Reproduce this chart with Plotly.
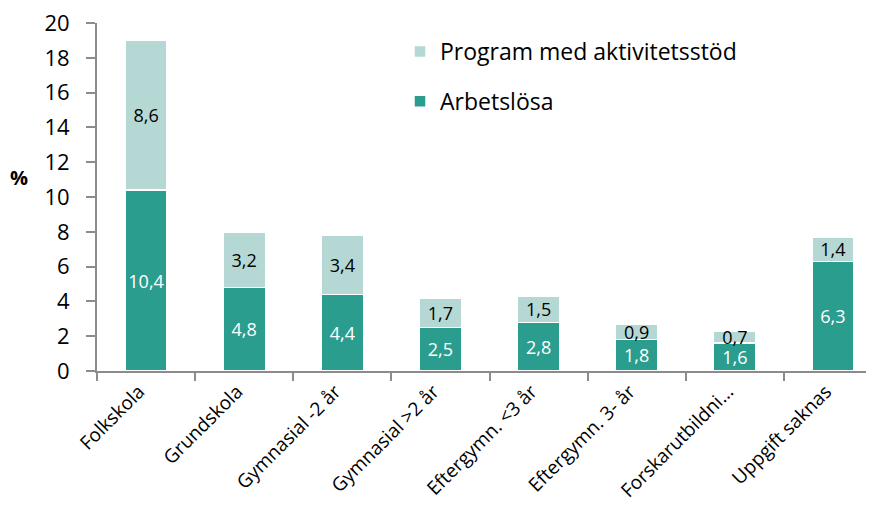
import plotly.graph_objects as go

# Categories and values (percent)
categories = ["Folkskola", "Grundskola", "Gymnasial -2 år", "Gymnasial >2 år",
              "Eftergymn. <3 år", "Eftergymn. 3- år", "Forskarutbildni...",
              "Uppgift saknas"]
arbetslosa = [10.4, 4.8, 4.4, 2.5, 2.8, 1.8, 1.6, 6.3]
program = [8.6, 3.2, 3.4, 1.7, 1.5, 0.9, 0.7, 1.4]
y_ticks = [0, 2, 4, 6, 8, 10, 12, 14, 16, 18, 20]

dark = "#2A9D8F"
light = "#B5D8D4"
font = "'Open Sans', sans-serif"


def fmt(v):
    return f"{v:.1f}".replace(".", ",")


fig = go.Figure()
fig.add_trace(go.Bar(x=categories, y=arbetslosa, name="Arbetslösa",
                     legendgroup="a", legendrank=2,
                     marker=dict(color=dark, line=dict(color="white", width=1.5)),
                     text=[fmt(v) for v in arbetslosa], textposition="inside",
                     insidetextanchor="middle", constraintext="none", textangle=0,
                     textfont=dict(color="white", size=18, family=font)))
fig.add_trace(go.Bar(x=categories, y=program, name="Program med aktivitetsstöd",
                     legendgroup="p", legendrank=1,
                     marker=dict(color=light, line=dict(color="white", width=1.5)),
                     text=[fmt(v) for v in program], textposition="inside",
                     insidetextanchor="middle", constraintext="none", textangle=0,
                     textfont=dict(color="black", size=18, family=font)))

fig.update_layout(
    barmode="stack",
    bargap=0.57,
    width=874, height=516,
    margin=dict(l=89, r=0, t=15, b=153, autoexpand=False),
    plot_bgcolor="white", paper_bgcolor="white",
    font=dict(family=font, color="black"),
    legend=dict(x=0.386, y=0.98, xanchor="left", yanchor="top",
                traceorder="grouped", font=dict(size=23),
                itemwidth=30, tracegroupgap=17, bgcolor="rgba(0,0,0,0)"),
    showlegend=True,
)
fig.update_xaxes(showline=True, linecolor="#8c8c8c", linewidth=2,
                 ticks="outside", tickson="boundaries", ticklen=8,
                 tickcolor="#8c8c8c", tickwidth=1.5, tickangle=-45,
                 tickfont=dict(size=19), range=[-0.5, 7.5], automargin=False,
                 ticklabeloverflow="allow", ticklabelshift=-7)
fig.update_yaxes(range=[0, 20], tickvals=y_ticks, showgrid=False,
                 showline=True, linecolor="#8c8c8c", linewidth=2,
                 ticks="outside", ticklen=9, tickcolor="#8c8c8c", tickwidth=1.5,
                 tickfont=dict(size=22), zeroline=False, automargin=False,
                 ticklabeloverflow="allow", ticklabelstandoff=12)
fig.add_annotation(text="<b>%</b>", xref="paper", yref="paper",
                   x=-0.1, y=0.555, xanchor="center", yanchor="middle",
                   showarrow=False, font=dict(size=20))

fig.write_html("out.html")
